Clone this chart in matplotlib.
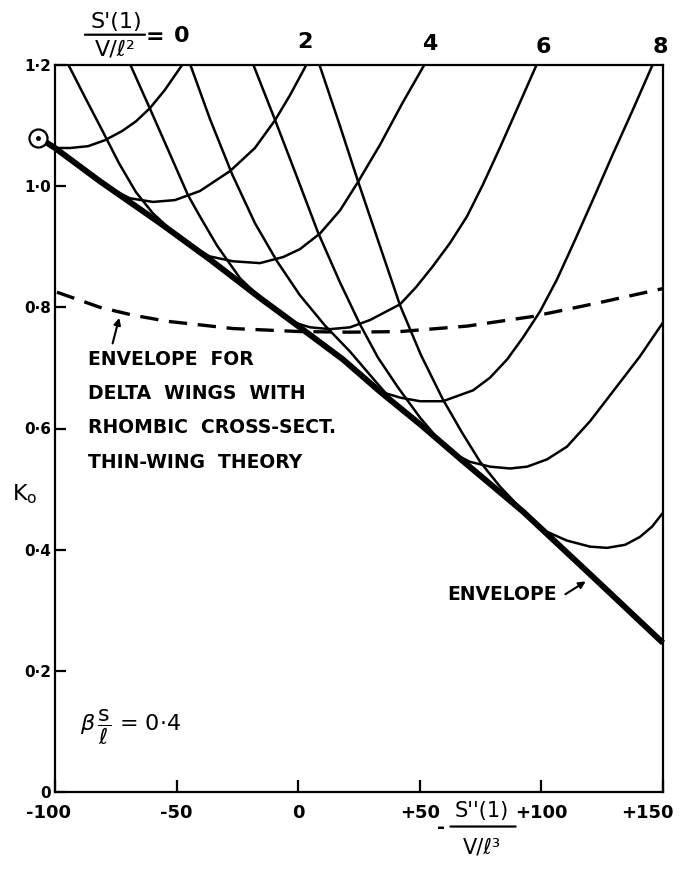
import matplotlib
matplotlib.use('agg')
import matplotlib.pyplot as plt
from matplotlib.transforms import ScaledTranslation

plt.rcParams['font.family'] = ['DejaVu Sans']
plt.rcParams['mathtext.fontset'] = 'dejavusans'

# envelope of all the curves (thick line), starts at the circled point
env_x = [-103.5, -100, -81.5, -56.8, -36.3, -14.9, 0.7, 18.4, 33.6, 50.1, 67.8, 92.4, 121.2, 150]
env_k = [1.072, 1.063, 1.008, 0.939, 0.879, 0.813, 0.767, 0.714, 0.661, 0.607, 0.546, 0.463, 0.355, 0.246]

# U shaped curves, S'(1)/(V/l^2) = 0, 2, 4, 6, 8, ...
u1_x = [-100, -93.8, -86.4, -79.4, -72.4, -66.7, -60.9, -54.8, -47.4]
u1_k = [1.063, 1.063, 1.066, 1.076, 1.091, 1.107, 1.129, 1.159, 1.202]
u2_x = [-77.4, -69.2, -59.7, -50.7, -40.4, -28.0, -17.8, -9.5, -3.4, 3.6]
u2_k = [0.997, 0.980, 0.974, 0.977, 0.992, 1.025, 1.063, 1.109, 1.150, 1.202]
u3_x = [-42.4, -36.3, -26.8, -15.7, -6.2, 0.7, 9.0, 17.2, 24.6, 33.6, 42.7, 52.1]
u3_k = [0.898, 0.884, 0.876, 0.873, 0.883, 0.896, 0.922, 0.960, 1.007, 1.068, 1.136, 1.202]
u4_x = [-11.6, -3.4, 4.9, 13.1, 21.3, 29.5, 41.9, 48.4, 55.4, 62.4, 69.4, 76.0, 83.0, 90.4, 98.2]
u4_k = [0.803, 0.777, 0.767, 0.764, 0.767, 0.779, 0.805, 0.833, 0.868, 0.906, 0.950, 1.003, 1.064, 1.131, 1.202]
u5_x = [33.6, 41.9, 50.1, 59.5, 71.9, 78.9, 85.9, 92.4, 99.4, 106.4, 113.8, 122.0, 129.4, 137.7, 145.9]
u5_k = [0.661, 0.651, 0.645, 0.645, 0.663, 0.684, 0.714, 0.750, 0.793, 0.846, 0.911, 0.985, 1.053, 1.127, 1.202]
u6_x = [62.4, 70.6, 78.9, 87.1, 94.1, 102.3, 110.5, 120.0, 129.4, 140.5, 150]
u6_k = [0.562, 0.545, 0.537, 0.534, 0.537, 0.549, 0.570, 0.612, 0.661, 0.719, 0.775]
u7_x = [93.3, 101.5, 110.5, 120.0, 127.0, 134.4, 140.5, 145.5, 150]
u7_k = [0.460, 0.431, 0.415, 0.405, 0.403, 0.408, 0.421, 0.438, 0.461]

# steep falling curves
a_x = [-94.7, -87.7, -80.7, -73.7, -66.7, -59.7, -51.9]
a_k = [1.202, 1.147, 1.093, 1.038, 0.990, 0.955, 0.926]
b_x = [-69.2, -61.3, -53.5, -45.3, -40.4, -33.4, -23.9, -14.9]
b_k = [1.202, 1.131, 1.060, 0.985, 0.950, 0.902, 0.848, 0.813]
c_x = [-44.5, -36.3, -27.2, -17.8, -8.7, 0.7, 11.0, 21.3, 32.8, 39.8]
c_k = [1.202, 1.111, 1.020, 0.939, 0.876, 0.820, 0.770, 0.727, 0.673, 0.641]
d_x = [-18.6, -9.5, -0.5, 8.1, 17.2, 25.4, 32.8, 41.0, 50.1, 58.3]
d_k = [1.202, 1.109, 1.015, 0.924, 0.841, 0.772, 0.717, 0.668, 0.618, 0.579]
e_x = [8.6, 16.8, 24.6, 33.2, 41.9, 50.5, 59.5, 67.4, 74.8, 83.0, 92.0, 97.4]
e_k = [1.202, 1.104, 1.008, 0.906, 0.803, 0.721, 0.648, 0.593, 0.545, 0.504, 0.466, 0.445]

# delta wing envelope (dashed)
dw_x = [-99.2, -81.5, -67.9, -53.9, -26.8, 0.7, 21.3, 41.9, 69.4, 96.6, 124.1, 150]
dw_k = [0.825, 0.800, 0.787, 0.777, 0.765, 0.760, 0.759, 0.760, 0.769, 0.785, 0.808, 0.831]

top_labels = ['0', '2', '4', '6', '8']
top_label_x = [-47.8, 2.8, 54.2, 100.7, 148.8]
top_label_k = [1.248, 1.238, 1.235, 1.230, 1.230]

xticks = [-100, -50, 0, 50, 100, 150]
xtick_labels = ['-100', '-50', '0', '+50', '+100', '+150']
yticks = [0, 0.2, 0.4, 0.6, 0.8, 1.0, 1.2]
ytick_labels = ['0', '0·2', '0·4', '0·6', '0·8', '1·0', '1·2']

fig = plt.figure(figsize=(6.81, 8.76), dpi=100)
ax = fig.add_axes([55 / 681, 84 / 876, 608 / 681, 727 / 876])
ax.set_xlim(-100, 150)
ax.set_ylim(0, 1.2)

lw = 1.8
for xs, ks in [(u1_x, u1_k), (u2_x, u2_k), (u3_x, u3_k), (u4_x, u4_k),
               (u5_x, u5_k), (u6_x, u6_k), (u7_x, u7_k),
               (a_x, a_k), (b_x, b_k), (c_x, c_k), (d_x, d_k), (e_x, e_k)]:
    ax.plot(xs, ks, color='black', lw=lw, solid_joinstyle='round', solid_capstyle='round')

ax.plot(env_x, env_k, color='black', lw=4.3, solid_capstyle='butt', solid_joinstyle='round',
        clip_on=False)
ax.plot(dw_x, dw_k, color='black', lw=2.4, dashes=(5.5, 3.2))

# the circled point at the start of the envelope
ax.plot([-107], [1.079], marker='o', ms=13, mfc='white', mec='black', mew=1.6, clip_on=False)
ax.plot([-107], [1.079], marker='o', ms=2.5, color='black', clip_on=False)

for sp in ax.spines.values():
    sp.set_linewidth(1.6)

ax.set_xticks(xticks)
ax.set_xticklabels(xtick_labels, fontsize=13, fontweight='bold')
ax.set_yticks(yticks)
ax.set_yticklabels(ytick_labels, fontsize=11, fontweight='bold')
ax.tick_params(axis='x', direction='in', length=9, width=1.6, pad=9)
ax.tick_params(axis='y', direction='in', length=8, width=1.6, pad=3)
lab = ax.get_xticklabels()
lab[-1].set_transform(lab[-1].get_transform() + ScaledTranslation(-11 / 72, 0, fig.dpi_scale_trans))
lab[0].set_transform(lab[0].get_transform() + ScaledTranslation(-5 / 72, 0, fig.dpi_scale_trans))

# labels of the curves along the top
for t, x, k in zip(top_labels, top_label_x, top_label_k):
    ax.text(x, k, t, fontsize=16, fontweight='bold', ha='center', va='center', clip_on=False)
ax.text(-74.6, 1.271, "S'(1)", fontsize=16, ha='center', va='center', clip_on=False)
ax.annotate('', xy=(-63.0, 1.250), xytext=(-87.7, 1.250), annotation_clip=False,
            arrowprops=dict(arrowstyle='-', color='black', lw=1.6, shrinkA=0, shrinkB=0))
ax.text(-75.3, 1.226, "V/ℓ²", fontsize=16, ha='center', va='center', clip_on=False)
ax.text(-58.9, 1.246, '=', fontsize=16, fontweight='bold', ha='center', va='center', clip_on=False)

# x axis label
ax.text(58.9, -0.058, '-', fontsize=14, fontweight='bold', ha='center', va='center', clip_on=False)
ax.text(75.4, -0.032, "S''(1)", fontsize=15, ha='center', va='center', clip_on=False)
ax.annotate('', xy=(89.4, -0.057), xytext=(62.6, -0.057), annotation_clip=False,
            arrowprops=dict(arrowstyle='-', color='black', lw=1.6, shrinkA=0, shrinkB=0))
ax.text(75.4, -0.092, "V/ℓ³", fontsize=15, ha='center', va='center', clip_on=False)

ax.text(-112.3, 0.491, r"$\mathregular{K_o}$", fontsize=16, ha='center', va='center', clip_on=False)

ax.text(-89.7, 0.107, r"$\beta\,\mathregular{\dfrac{s}{\ell}}$ = 0·4", fontsize=16,
        ha='left', va='center')

for i, line in enumerate(['ENVELOPE  FOR', 'DELTA  WINGS  WITH',
                          'RHOMBIC  CROSS-SECT.', 'THIN-WING  THEORY']):
    ax.text(-86.4, 0.714 - i * 0.0565, line, fontsize=13.5, fontweight='bold',
            ha='left', va='center')
ax.annotate('', xy=(-73.3, 0.787), xytext=(-76.6, 0.736),
            arrowprops=dict(arrowstyle='-|>', color='black', lw=1.5, mutation_scale=10))

ax.text(106.4, 0.326, 'ENVELOPE', fontsize=13.5, fontweight='bold', ha='right', va='center')
ax.annotate('', xy=(119.2, 0.350), xytext=(108.9, 0.324),
            arrowprops=dict(arrowstyle='-|>', color='black', lw=1.5, mutation_scale=10))

plt.savefig('out.png', dpi=100)
plt.close()
